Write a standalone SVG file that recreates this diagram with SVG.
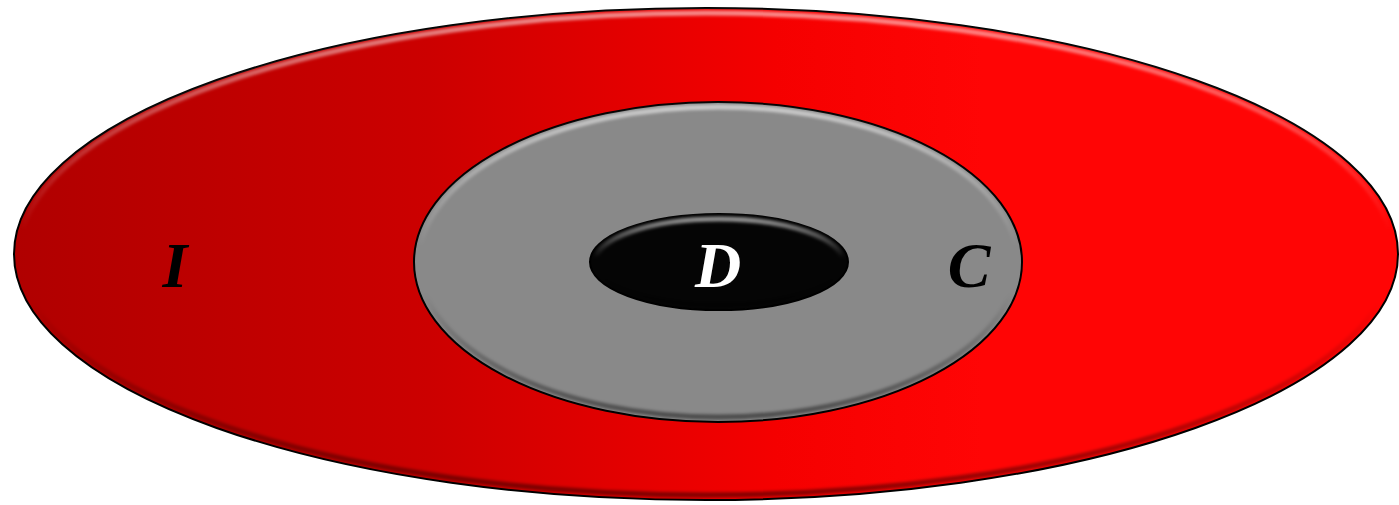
<svg xmlns="http://www.w3.org/2000/svg" width="1399" height="505" viewBox="0 0 1399 505">
<defs>
<linearGradient id="redGrad" gradientUnits="userSpaceOnUse" x1="13" y1="0" x2="1399" y2="0">
<stop offset="0" stop-color="#b00000"/>
<stop offset="0.3" stop-color="#cc0000"/>
<stop offset="0.55" stop-color="#f50000"/>
<stop offset="0.7" stop-color="#ff0505"/>
<stop offset="1" stop-color="#ff0505"/>
</linearGradient>
<linearGradient id="bevel" x1="0" y1="0" x2="0" y2="1">
<stop offset="0" stop-color="#ffffff" stop-opacity="0.55"/>
<stop offset="0.45" stop-color="#ffffff" stop-opacity="0"/>
<stop offset="0.6" stop-color="#000000" stop-opacity="0"/>
<stop offset="1" stop-color="#000000" stop-opacity="0.45"/>
</linearGradient>
<filter id="soft" x="-5%" y="-5%" width="110%" height="110%">
<feGaussianBlur stdDeviation="1.5"/>
</filter>
</defs>
<style>
.edge{stroke:#000;stroke-width:2}
.bev{fill:none;stroke:url(#bevel);stroke-width:5}
.lbl{font-family:"Liberation Serif","DejaVu Serif",serif;font-weight:bold;font-style:italic;font-size:64px;text-anchor:middle}
</style>
<g id="node-I">
<ellipse cx="706" cy="254" rx="692" ry="246" fill="url(#redGrad)" class="edge"/>
<ellipse cx="706" cy="254" rx="687" ry="241" class="bev" filter="url(#soft)"/>
<text class="lbl" x="175" y="287" fill="#000">I</text>
</g>
<g id="node-C">
<ellipse cx="718" cy="262" rx="304" ry="160" fill="#898989" class="edge"/>
<ellipse cx="718" cy="262" rx="299" ry="155" class="bev" filter="url(#soft)"/>
<text class="lbl" x="969" y="287" fill="#000">C</text>
</g>
<g id="node-D">
<ellipse cx="719" cy="262" rx="129" ry="48" fill="#050505" class="edge"/>
<ellipse cx="719" cy="262" rx="124" ry="43" class="bev" filter="url(#soft)"/>
<text class="lbl" x="718" y="287" fill="#fff">D</text>
</g>
<g id="connectors"/>
</svg>
